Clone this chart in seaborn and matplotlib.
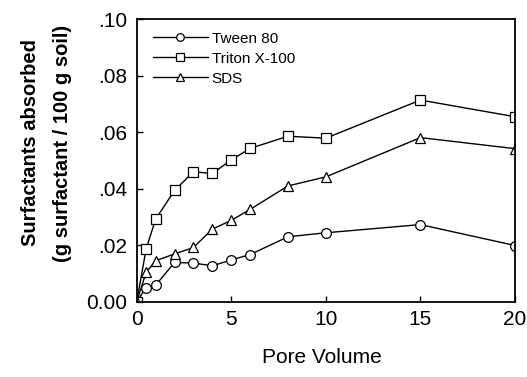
import numpy as np
import pandas as pd
import matplotlib
matplotlib.use("Agg")
import matplotlib.pyplot as plt
import seaborn as sns

sns.set_theme(style="ticks")
plt.rcParams["font.family"] = ["Liberation Sans", "DejaVu Sans"]
plt.rcParams["text.color"] = "black"
plt.rcParams["axes.labelcolor"] = "black"

pore_volume = [0, 0.5, 1, 2, 3, 4, 5, 6, 8, 10, 15, 20]
tween80 = [0.0, 0.0050, 0.0058, 0.0139, 0.0137, 0.0127, 0.0148, 0.0167, 0.0230, 0.0244, 0.0273, 0.0199]
triton = [0.0, 0.0187, 0.0292, 0.0394, 0.0460, 0.0454, 0.0502, 0.0543, 0.0586, 0.0579, 0.0714, 0.0655]
sds = [0.0, 0.0104, 0.0145, 0.0169, 0.0192, 0.0257, 0.0288, 0.0327, 0.0410, 0.0442, 0.0581, 0.0542]
names = ["Tween 80", "Triton X-100", "SDS"]

df = pd.concat([
    pd.DataFrame({"Pore Volume": pore_volume, "value": v, "Surfactant": n})
    for n, v in zip(names, [tween80, triton, sds])
])

fig = plt.figure(figsize=(5.27, 3.77), dpi=100)
ax = fig.add_axes([136.7 / 527, 1 - 301.7 / 377, (515 - 136.7) / 527, (301.7 - 19.3) / 377])

sns.lineplot(
    data=df, x="Pore Volume", y="value", style="Surfactant", style_order=names,
    markers={"Tween 80": "o", "Triton X-100": "s", "SDS": "^"}, dashes=False,
    color="black", linewidth=1, markersize=7, markerfacecolor="white",
    markeredgecolor="black", markeredgewidth=0.9, ax=ax, legend=True,
)

ax.set_xlim(0, 20)
ax.set_ylim(0, 0.1)
ax.set_xticks([0, 5, 10, 15, 20])
ax.set_yticks([0, 0.02, 0.04, 0.06, 0.08, 0.10])
ax.set_yticklabels(["0.00", ".02", ".04", ".06", ".08", ".10"])
ax.tick_params(direction="in", length=4, width=1, labelsize=15, colors="black")
ax.tick_params(axis="y", pad=7)
ax.tick_params(axis="x", pad=6)
for s in ax.spines.values():
    s.set_visible(True)
    s.set_linewidth(1.3)
    s.set_color("black")

ax.set_xlabel("Pore Volume", fontsize=15)
ax.xaxis.set_label_coords(0.49, -0.165)
ax.set_ylabel("Surfactants absorbed\n(g surfactant / 100 g soil)", fontsize=14.5,
              fontweight="bold", linespacing=1.85)
ax.yaxis.set_label_coords(-0.171, 0.562)

leg = ax.legend(loc="upper left", frameon=False, fontsize=11, handlelength=3.6,
                handletextpad=0.25, labelspacing=0.4, borderaxespad=0.4,
                bbox_to_anchor=(0.01, 1.0))
for h in leg.legend_handles:
    h.set_markerfacecolor("white")
    h.set_markeredgecolor("black")
    h.set_markersize(5.5)
    h.set_color("black")

fig.savefig("out.png", dpi=100)
